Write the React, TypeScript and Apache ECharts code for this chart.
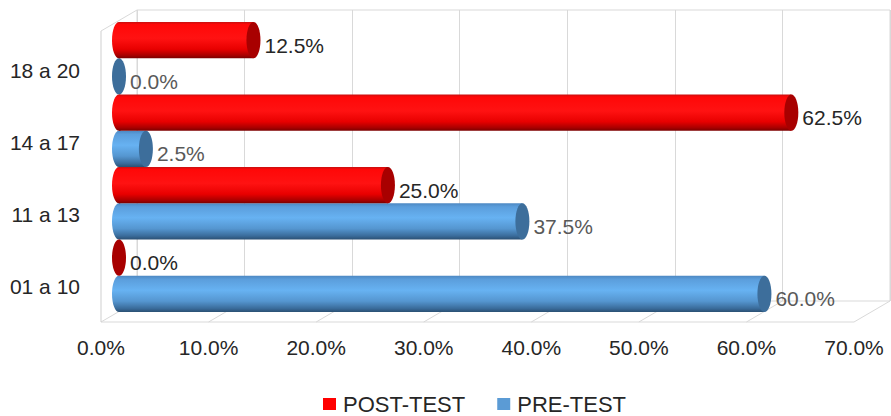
import { useEffect, useRef } from "react";
import * as echarts from "echarts";

const CATEGORIES = ["01 a 10", "11 a 13", "14 a 17", "18 a 20"];
const PRE_TEST = [60.0, 37.5, 2.5, 0.0];
const POST_TEST = [0.0, 25.0, 62.5, 12.5];
const X_TICKS = [0, 10, 20, 30, 40, 50, 60, 70];
const SERIES_NAMES = ["POST-TEST", "PRE-TEST"];

const FONT = "'Liberation Sans', Arial, sans-serif";
const FRONT_TOP = 31;
const FRONT_BOTTOM = 322;
const DX = 36;
const DY = 21;
const LINE = "#d9d9d9";

const RED_BODY = [
  { offset: 0, color: "#c81010" },
  { offset: 0.07, color: "#ff0808" },
  { offset: 0.45, color: "#ff1212" },
  { offset: 0.75, color: "#e80000" },
  { offset: 0.92, color: "#a80000" },
  { offset: 1, color: "#7a0000" },
];
const BLUE_BODY = [
  { offset: 0, color: "#4d88c2" },
  { offset: 0.1, color: "#5b9edc" },
  { offset: 0.4, color: "#67b2f2" },
  { offset: 0.7, color: "#5596d0" },
  { offset: 0.9, color: "#3a6c9b" },
  { offset: 1, color: "#2b5073" },
];

function cylinder(kind: "pre" | "post") {
  const body = kind === "pre" ? BLUE_BODY : RED_BODY;
  const cap = kind === "pre" ? "#3d6e9b" : "#a80000";
  const labelColor = kind === "pre" ? "#595959" : "#262626";
  return (params: any, api: any) => {
    const v = api.value(0) as number;
    const c = api.value(1) as number;
    const s = api.coord([0, c]);
    const e = api.coord([v, c]);
    const band = api.size([0, 1])[1];
    const h = band / 2;
    const cy = s[1] + (kind === "pre" ? h / 2 : -h / 2);
    const ry = h / 2;
    const rx = 7;
    const grad = () => new echarts.graphic.LinearGradient(0, 0, 0, 1, body);
    const children: any[] = [];
    if (v > 0) {
      children.push({
        type: "ellipse",
        shape: { cx: s[0], cy, rx, ry },
        style: { fill: grad() },
      });
      children.push({
        type: "rect",
        shape: { x: s[0], y: cy - ry, width: e[0] - s[0], height: h },
        style: { fill: grad() },
      });
    }
    children.push({
      type: "ellipse",
      shape: { cx: e[0], cy, rx, ry },
      style: { fill: cap },
    });
    children.push({
      type: "text",
      style: {
        text: v.toFixed(1) + "%",
        x: e[0] + rx + 4,
        y: cy + 5,
        fill: labelColor,
        fontSize: 21,
        fontFamily: FONT,
        align: "left",
        verticalAlign: "middle",
      },
    });
    return { type: "group", children };
  };
}

export default function App() {
  const ref = useRef<HTMLDivElement>(null);
  useEffect(() => {
    document.body.style.margin = "0";
    if (!ref.current) return;
    const chart = echarts.init(ref.current, null, { renderer: "svg" });
    const hiddenValueX = (idx: number, extra: any = {}) => ({
      type: "value",
      gridIndex: idx,
      min: 0,
      max: 70,
      interval: 10,
      axisLine: { show: false },
      axisTick: { show: false },
      axisLabel: { show: false },
      splitLine: { show: false },
      ...extra,
    });
    const option: any = {
      animation: false,
      backgroundColor: "#ffffff",
      textStyle: { fontFamily: FONT },
      legend: {
        data: SERIES_NAMES,
        left: 318,
        top: 388,
        icon: "rect",
        itemWidth: 13,
        itemHeight: 12,
        itemGap: 32,
        textStyle: { fontSize: 22, color: "#262626", fontFamily: FONT, padding: [0, 0, 0, 2] },
      },
      grid: [
        { left: 101, top: 34, width: 753, height: 289 },
        { left: 119, top: 22, width: 753, height: 290 },
        { left: 137, top: 10, width: 753, height: 291, show: true, borderColor: LINE, borderWidth: 1, backgroundColor: "transparent" },
      ],
      xAxis: [
        hiddenValueX(0, {
          axisLabel: {
            show: true,
            fontSize: 21,
            color: "#262626",
            fontFamily: FONT,
            margin: 14,
            formatter: (val: number) => val.toFixed(1) + "%",
          },
        }),
        hiddenValueX(1),
        hiddenValueX(2, { splitLine: { show: true, lineStyle: { color: LINE, width: 1 } } }),
      ],
      yAxis: [
        {
          type: "category",
          gridIndex: 0,
          data: CATEGORIES,
          axisLine: { show: false },
          axisTick: { show: false },
          splitLine: { show: false },
          axisLabel: { fontSize: 21, color: "#262626", fontFamily: FONT, margin: 21 },
        },
        { type: "category", gridIndex: 1, data: CATEGORIES, show: false },
        { type: "category", gridIndex: 2, data: CATEGORIES, show: false },
      ],
      series: [
        {
          name: "PRE-TEST",
          type: "custom",
          xAxisIndex: 1,
          yAxisIndex: 1,
          itemStyle: { color: "#5b9bd5" },
          encode: { x: 0, y: 1 },
          data: PRE_TEST.map((v, i) => [v, i]),
          renderItem: cylinder("pre"),
          z: 3,
        },
        {
          name: "POST-TEST",
          type: "custom",
          xAxisIndex: 1,
          yAxisIndex: 1,
          itemStyle: { color: "#ff0000" },
          encode: { x: 0, y: 1 },
          data: POST_TEST.map((v, i) => [v, i]),
          renderItem: cylinder("post"),
          z: 3,
        },
      ],
    };
    chart.setOption(option);

    const fx = X_TICKS.map((t) => chart.convertToPixel({ xAxisIndex: 0 }, t) as number);
    const lineEl = (x1: number, y1: number, x2: number, y2: number, color = LINE) => ({
      type: "line",
      z: 1,
      shape: { x1, y1, x2, y2 },
      style: { stroke: color, lineWidth: 1 },
      silent: true,
    });
    const graphic: any[] = [];
    fx.forEach((x) => graphic.push(lineEl(x, FRONT_BOTTOM, x + DX, FRONT_BOTTOM - DY)));
    graphic.push(lineEl(fx[0], FRONT_BOTTOM, fx[fx.length - 1], FRONT_BOTTOM));
    graphic.push(lineEl(fx[0], FRONT_TOP, fx[0], FRONT_BOTTOM, "#cfcfcf"));
    graphic.push(lineEl(fx[0], FRONT_TOP, fx[0] + DX, FRONT_TOP - DY));
    chart.setOption({ graphic });

    return () => chart.dispose();
  }, []);
  return <div ref={ref} style={{ width: 891, height: 416 }} />;
}
